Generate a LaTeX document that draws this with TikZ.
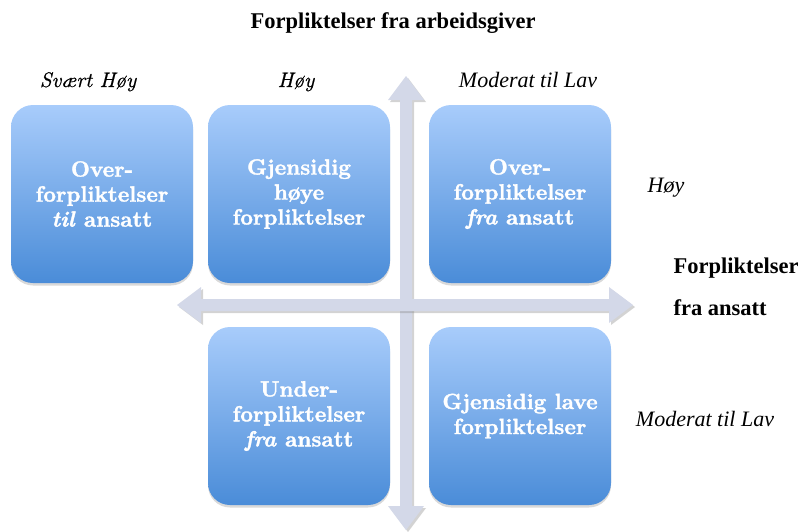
\documentclass[tikz,border=0pt]{standalone}
\usepackage{fontspec}
\newfontfamily\timesfont{Liberation Serif}
\newfontfamily\boxfont{lmroman10-bold.otf}[ItalicFont=lmroman10-bolditalic.otf, FakeBold=1.6]
\newfontfamily\cmitfont{lmroman10-italic.otf}[FakeBold=0.6]
\usepackage{xcolor}
\usepackage{tikz}
\usetikzlibrary{shadows}

\definecolor{boxtop}{HTML}{A8CCFB}
\definecolor{boxbottom}{HTML}{4A8CD8}
\definecolor{axisfill}{HTML}{D3D8E8}

\tikzset{
  quadrant/.style={rounded corners=22pt, top color=boxtop, bottom color=boxbottom,
    minimum width=182pt, minimum height=178pt, align=center, text=white,
    font=\boxfont\fontsize{22}{25}\selectfont,
    drop shadow={shadow xshift=0pt, shadow yshift=-2.5pt, opacity=0.3}},
  levelcm/.style={font=\cmitfont\fontsize{21}{25}\selectfont, anchor=base},
  leveltimes/.style={font=\timesfont\fontsize{22}{25}\selectfont\itshape, anchor=base},
  axislabel/.style={font=\timesfont\fontsize{22.5}{27}\selectfont\bfseries, anchor=base west},
  axisarrow/.style={fill=axisfill,
    drop shadow={shadow xshift=2pt, shadow yshift=-2pt, opacity=0.35}}
}

\begin{document}
\begin{tikzpicture}[x=1pt,y=-1pt]
\useasboundingbox (0,0) rectangle (798,531);

% axes
\fill[axisarrow] (406,76) -- (424,100) -- (412,100) -- (412,506) -- (424,506) -- (406,530)
  -- (388,506) -- (400,506) -- (400,100) -- (388,100) -- cycle;
\fill[axisarrow] (177,305) -- (201,287) -- (201,299) -- (609,299) -- (609,287) -- (633,305)
  -- (609,323) -- (609,311) -- (201,311) -- (201,323) -- cycle;

% quadrants
\node[quadrant] (overtil) at (102,194) {Over-\\forpliktelser\\\textit{til} ansatt};
\node[quadrant] (hoye) at (299,194) {Gjensidig\\høye\\forpliktelser};
\node[quadrant] (overfra) at (520,194) {Over-\\forpliktelser\\\textit{fra} ansatt};
\node[quadrant] (under) at (299,416) {Under-\\forpliktelser\\\textit{fra} ansatt};
\node[quadrant] (lave) at (520,416) {Gjensidig lave\\forpliktelser};

% labels
\node[font=\timesfont\fontsize{22.5}{27}\selectfont\bfseries, anchor=base] (title) at (393,28) {Forpliktelser fra arbeidsgiver};
\node[levelcm] (svaerthoy) at (88,87) {Svært Høy};
\node[levelcm] (hoytop) at (296,87) {Høy};
\node[leveltimes] (modtop) at (528,87) {Moderat til Lav};
\node[leveltimes] (hoyright) at (666,192) {Høy};
\node[axislabel] (ansatt1) at (670,273) {Forpliktelser};
\node[axislabel] (ansatt2) at (670,315) {fra ansatt};
\node[leveltimes] (modright) at (705,426) {Moderat til Lav};

\end{tikzpicture}
\end{document}
